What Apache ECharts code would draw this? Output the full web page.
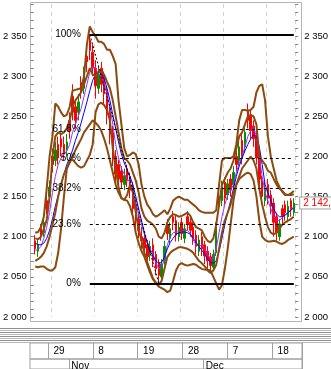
<!DOCTYPE html>
<html>
<head>
<meta charset="utf-8">
<script src="https://cdn.jsdelivr.net/npm/echarts@6/dist/echarts.min.js"></script>
<style>
html,body{margin:0;padding:0;background:#fff;}
#chart{width:331px;height:369px;}
</style>
</head>
<body>
<div id="chart"></div>
<script>
// ---- data ----
const opens = [2095,2082,2110,2105,2145,2150,2200,2195,2215,2222,
 2215,2208,2245,2275,2262,2255,2292,2285,2325,2345,
 2330,2310,2285,2310,2300,2280,2255,2230,2200,2190,
 2182,2165,2185,2175,2162,2140,2122,2100,2098,2090,
 2078,2090,2078,2068,2050,2070,2115,2098,2125,2120,
 2100,2118,2098,2125,2118,2112,2102,2082,2100,2090,
 2082,2075,2062,2080,2150,2145,2168,2152,2172,2165,
 2200,2195,2220,2212,2258,2250,2238,2226,2202,2170,
 2145,2165,2152,2142,2125,2100,2135,2140,2125,2145,
 2130];
const highs = [2102,2098,2116,2126,2152,2170,2210,2218,2225,2230,
 2225,2228,2255,2290,2270,2278,2300,2312,2335,2352,
 2340,2320,2312,2318,2306,2288,2265,2238,2208,2196,
 2188,2185,2190,2180,2168,2148,2130,2112,2104,2096,
 2095,2098,2082,2072,2072,2095,2122,2118,2132,2126,
 2118,2124,2116,2132,2124,2118,2108,2102,2106,2095,
 2088,2080,2084,2118,2158,2170,2174,2172,2178,2188,
 2208,2220,2228,2238,2266,2258,2245,2232,2208,2176,
 2168,2172,2158,2148,2130,2122,2140,2145,2145,2148,
 2148];
const lows = [2078,2075,2095,2100,2128,2142,2180,2188,2190,2200,
 2195,2200,2222,2245,2235,2245,2272,2278,2305,2320,
 2300,2272,2278,2280,2265,2240,2215,2188,2165,2162,
 2160,2158,2162,2148,2125,2110,2098,2085,2075,2065,
 2070,2062,2052,2042,2045,2065,2096,2092,2108,2094,
 2094,2096,2092,2108,2100,2090,2078,2076,2076,2066,
 2060,2055,2058,2076,2132,2138,2140,2146,2150,2158,
 2182,2188,2190,2205,2235,2222,2212,2190,2162,2140,
 2138,2140,2128,2100,2095,2095,2115,2120,2118,2125,
 2126];
const closes = [2085,2090,2102,2118,2135,2162,2190,2208,2198,2212,
 2203,2218,2232,2255,2245,2268,2282,2300,2318,2332,
 2310,2288,2302,2290,2278,2252,2228,2198,2178,2172,
 2168,2176,2170,2158,2135,2120,2108,2095,2086,2075,
 2088,2070,2060,2052,2066,2088,2104,2110,2118,2102,
 2112,2104,2110,2116,2108,2098,2088,2096,2085,2076,
 2070,2064,2078,2112,2140,2162,2148,2166,2158,2180,
 2190,2212,2198,2230,2245,2232,2222,2198,2172,2150,
 2160,2148,2138,2118,2105,2116,2126,2130,2138,2134,
 2142];
const maShort = [2083,2084,2088,2098,2112,2130,2155,2175,2190,2198,
 2203,2207,2215,2230,2240,2250,2260,2275,2290,2305,
 2312,2310,2303,2300,2292,2278,2262,2240,2215,2198,
 2185,2178,2172,2168,2158,2143,2128,2115,2103,2093,
 2085,2078,2068,2060,2062,2072,2090,2100,2105,2106,
 2106,2106,2107,2108,2104,2096,2090,2088,2090,2085,
 2078,2072,2073,2085,2105,2125,2140,2152,2158,2165,
 2180,2192,2200,2212,2225,2232,2237,2225,2200,2175,
 2155,2145,2135,2125,2120,2120,2124,2127,2130,2134,
 2137];
const maLong = [2092,2090,2090,2092,2098,2108,2122,2138,2152,2165,
 2178,2190,2198,2208,2220,2230,2242,2255,2268,2282,
 2295,2302,2305,2303,2297,2285,2270,2252,2235,2218,
 2203,2192,2183,2175,2165,2150,2135,2120,2105,2092,
 2082,2076,2070,2067,2068,2075,2085,2093,2098,2103,
 2105,2106,2106,2105,2103,2098,2093,2088,2083,2078,
 2072,2068,2067,2070,2082,2098,2115,2130,2145,2160,
 2175,2188,2198,2207,2215,2222,2227,2225,2212,2190,
 2165,2155,2145,2135,2128,2125,2125,2127,2130,2133,
 2136];
const bandOuterUpper = [2105,2106,2112,2125,2160,2200,2225,2266,2262,2255,
 2250,2252,2262,2282,2283,2284,2285,2300,2340,2362,
 2355,2350,2343,2343,2340,2333,2333,2325,2315,2270,
 2240,2210,2200,2202,2205,2203,2190,2165,2150,2140,
 2135,2128,2125,2127,2130,2133,2128,2135,2145,2148,
 2150,2148,2146,2146,2143,2140,2137,2133,2131,2130,
 2130,2130,2130,2133,2165,2195,2198,2198,2198,2200,
 2215,2245,2258,2258,2257,2258,2262,2280,2288,2290,
 2270,2225,2200,2185,2170,2162,2156,2152,2152,2154,
 2157];
const bandInnerUpper = [2098,2097,2100,2110,2121,2150,2200,2225,2230,2228,
 2230,2235,2245,2262,2270,2275,2280,2290,2300,2310,
 2302,2300,2305,2306,2302,2293,2285,2270,2250,2230,
 2210,2198,2195,2190,2180,2170,2155,2135,2125,2120,
 2118,2115,2110,2100,2098,2105,2118,2125,2128,2127,
 2125,2126,2128,2130,2126,2118,2112,2110,2108,2100,
 2095,2093,2098,2115,2140,2165,2172,2180,2185,2195,
 2210,2225,2230,2240,2250,2252,2250,2240,2200,2195,
 2190,2182,2180,2172,2165,2160,2157,2153,2152,2152,
 2153];
const bandInnerLower = [2070,2072,2075,2080,2088,2100,2115,2130,2150,2165,
 2178,2185,2192,2200,2208,2215,2222,2230,2235,2240,
 2245,2242,2238,2232,2222,2210,2195,2180,2165,2155,
 2148,2146,2145,2138,2125,2105,2092,2082,2075,2065,
 2055,2047,2043,2040,2045,2060,2075,2080,2083,2085,
 2087,2087,2086,2085,2083,2080,2075,2070,2067,2063,
 2058,2055,2058,2065,2085,2105,2120,2130,2140,2155,
 2165,2175,2185,2190,2195,2200,2195,2185,2160,2140,
 2125,2112,2105,2103,2105,2110,2115,2118,2120,2122,
 2125];
const bandOuterLower = [2063,2062,2063,2063,2060,2058,2058,2062,2080,2110,
 2150,2185,2195,2196,2192,2188,2186,2188,2195,2202,
 2215,2255,2265,2267,2264,2258,2245,2210,2185,2162,
 2148,2146,2152,2165,2155,2130,2110,2095,2080,2068,
 2058,2048,2042,2038,2036,2034,2031,2033,2045,2058,
 2065,2067,2065,2064,2065,2066,2065,2062,2060,2059,
 2059,2058,2050,2042,2034,2040,2060,2085,2115,2145,
 2165,2172,2175,2178,2180,2178,2170,2150,2120,2100,
 2096,2094,2094,2095,2094,2092,2091,2093,2096,2098,
 2100];
// Fibonacci retracement (levels)
const fibLabels = ['100%','61.8%','50%','38.2%','23.6%','0%'];
const fibValues = [2352, 2234, 2198, 2161, 2116, 2042];
const fibStartIndex = 19;
const fibLowIndex = 43;
const lastPrice = 2142;
const lastPriceText = '2 142,';
// time axis labels
const dayLabels = ['29','8','19','28','7','18'];
const dayIndex = [6,21,36,51,66,81];
const monthLabels = ['Nov','Dec'];
const monthIndex = [13,58];
const categories = closes.map((_, i) => i);

// ---- chart ----
const FONT = 'Liberation Sans';
const lastIndex = closes.length - 1;
const fmtY = v => (v % 50 === 0 ? String(v).replace(/\B(?=(\d{3})+(?!\d))/g, ' ') : '');

const fibMarks = fibValues.map((v, k) => {
  const solid = (fibLabels[k] === '100%' || fibLabels[k] === '0%');
  return [
    { coord: [fibStartIndex, v],
      label: { show: true, position: 'start', distance: 9, formatter: fibLabels[k], color: '#000', fontSize: 10, fontFamily: FONT },
      lineStyle: { color: '#000', width: solid ? 2 : 1, type: solid ? 'solid' : [3, 3] } },
    { coord: [lastIndex, v] }
  ];
});
fibMarks.push([
  { coord: [fibStartIndex, fibValues[0]], label: { show: false }, lineStyle: { color: '#000', width: 1, type: [2, 2] } },
  { coord: [fibLowIndex, fibValues[5]] }
]);

const brown = (d) => ({ type: 'line', data: d, xAxisIndex: 0, yAxisIndex: 0, symbol: 'none', z: 4,
  lineStyle: { color: '#8b4a0e', width: 2 } });

const graphics = [{ type: 'rect', silent: true, z: -10,
  shape: { x: 30.5, y: 2.5, width: 271, height: 319 },
  style: { fill: 'none', stroke: '#b4b4b4', lineWidth: 1 } }];
for (let k = 0; k < 8; k++) {
  graphics.push({ type: 'line', silent: true, shape: { x1: 0, y1: 328.5 + 2 * k, x2: 331, y2: 328.5 + 2 * k },
    style: { stroke: k % 2 ? '#b8b8b8' : '#909090', lineWidth: 1 } });
}

const subAxis = (grid, idxs, labels, margin, pad) => ({
  gridIndex: grid, type: 'category', data: categories, boundaryGap: true, position: 'top',
  axisLine: { show: false }, axisTick: { show: false },
  axisLabel: { show: true, inside: true, margin: margin, align: 'left', padding: [0, 0, 0, pad],
    interval: (i) => idxs.includes(i), formatter: (v, i) => { const p = idxs.indexOf(i); return p >= 0 ? labels[p] : ''; },
    color: '#000', fontSize: 10, fontFamily: FONT },
  splitLine: { show: true, interval: (i) => idxs.includes(i), lineStyle: { color: '#a0a0a0', width: 1, type: 'solid' } }
});
const hiddenY = (grid) => ({ gridIndex: grid, type: 'value', min: 0, max: 1, show: false,
  axisLine: { show: false }, axisTick: { show: false }, axisLabel: { show: false }, splitLine: { show: false } });

const chart = echarts.init(document.getElementById('chart'), null, { renderer: 'canvas' });
chart.setOption({
  animation: false,
  backgroundColor: '#fff',
  textStyle: { fontFamily: FONT },
  grid: [
    { left: 30, right: 29, top: 4, bottom: 52, show: false },
    { left: 30, right: 29, top: 343, height: 16, show: true, borderColor: '#a0a0a0', borderWidth: 1, backgroundColor: 'transparent' },
    { left: 30, right: 29, top: 359, height: 14, show: true, borderColor: '#a0a0a0', borderWidth: 1, backgroundColor: 'transparent' }
  ],
  xAxis: [
    { gridIndex: 0, type: 'category', data: categories, boundaryGap: true,
      axisLine: { show: false }, axisTick: { show: false }, axisLabel: { show: false },
      splitLine: { show: true, interval: (i) => dayIndex.includes(i), lineStyle: { color: '#d2d2d2', type: [4, 4], width: 1 } } },
    subAxis(1, dayIndex, dayLabels, 3, 4),
    subAxis(2, monthIndex, monthLabels, 2, 1)
  ],
  yAxis: [
    { gridIndex: 0, type: 'value', min: 2000, max: 2390, interval: 10, position: 'left',
      axisLine: { show: false }, splitLine: { show: false },
      axisTick: { show: true, length: 3, lineStyle: { color: '#808080' } },
      axisLabel: { formatter: fmtY, margin: 7, color: '#000', fontSize: 9.5, fontFamily: FONT } },
    { gridIndex: 0, type: 'value', min: 2000, max: 2390, interval: 10, position: 'right',
      axisLine: { show: false }, splitLine: { show: false },
      axisTick: { show: true, length: 3, lineStyle: { color: '#808080' } },
      axisLabel: { formatter: fmtY, margin: 9, color: '#000', fontSize: 9.5, fontFamily: FONT } },
    hiddenY(1),
    hiddenY(2)
  ],
  series: [
    { type: 'candlestick', xAxisIndex: 0, yAxisIndex: 0, barWidth: 2,
      data: closes.map((c, i) => [opens[i], c, lows[i], highs[i]]),
      itemStyle: { color: '#009000', color0: '#ff0000', borderColor: '#009000', borderColor0: '#ff0000', borderWidth: 1 },
      markLine: { silent: true, symbol: ['none', 'none'], animation: false, z: 6, data: fibMarks } },
    { type: 'line', data: maShort, xAxisIndex: 0, yAxisIndex: 0, symbol: 'none', z: 3, lineStyle: { color: '#9933ff', width: 1 } },
    { type: 'line', data: maLong, xAxisIndex: 0, yAxisIndex: 0, symbol: 'none', z: 3, lineStyle: { color: '#0000ff', width: 1 } },
    brown(bandOuterUpper), brown(bandInnerUpper), brown(bandInnerLower), brown(bandOuterLower),
    { type: 'line', data: [], xAxisIndex: 0, yAxisIndex: 0, symbol: 'none', z: 7,
      markLine: { silent: true, symbol: ['none', 'none'], animation: false, z: 7,
        data: [{ yAxis: lastPrice,
          lineStyle: { color: 'rgba(0,0,0,0)', width: 1 },
          label: { show: true, position: 'end', distance: 5, formatter: lastPriceText, color: '#ff0000', fontSize: 10, fontFamily: FONT,
                   backgroundColor: '#ffffff', borderColor: '#a0a0a0', borderWidth: 1, padding: [1, 8, 0, 3] } }] } }
  ],
  graphic: graphics
});
</script>
</body>
</html>
